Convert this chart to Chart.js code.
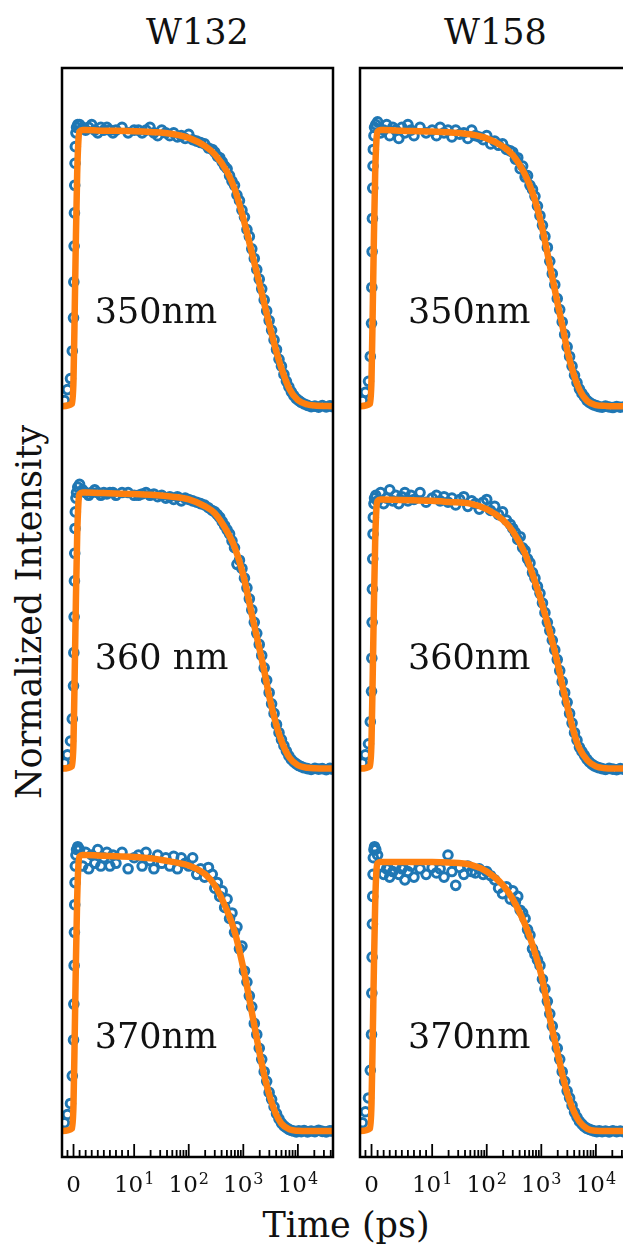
<!DOCTYPE html>
<html>
<head>
<meta charset="utf-8">
<script src="https://cdn.jsdelivr.net/npm/chart.js@4.4.1/dist/chart.umd.min.js"></script>
<style>
  html, body { margin: 0; padding: 0; background: #fff; }
  body { width: 623px; height: 1247px; position: relative; overflow: hidden; font-family: 'DejaVu Serif', serif; color: #111; }
  canvas { position: absolute; top: 0; }
  #leftChart { left: 0; }
  #rightChart { left: 298px; }
  .txt { position: absolute; font-size: 35px; line-height: 35px; white-space: nowrap; }
</style>
</head>
<body>
<div class="txt" style="left:197.5px; top:15px; transform:translateX(-50%)">W132</div>
<div class="txt" style="left:495.5px; top:15px; transform:translateX(-50%)">W158</div>
<div class="txt" style="left:29px; top:612px; transform:translate(-50%,-50%) rotate(-90deg)">Normalized Intensity</div>
<div class="txt" style="left:346px; top:1208px; transform:translateX(-50%)">Time (ps)</div>
<canvas id="leftChart" width="346" height="1247"></canvas>
<canvas id="rightChart" width="346" height="1247"></canvas>
<script>
// time axis (ps) - measured points and fit curve sampling
const TIME_DATA = [
  -1.5, -1.0, -0.5, -0.2, 0, 0.05, 0.1, 0.15, 0.2, 0.25, 0.3, 0.4, 0.5, 0.7,
  1, 1.5, 2, 2.5, 3, 3.5, 4, 4.5, 5, 5.5, 6, 6.5, 7, 8, 9, 10,
  12, 14, 16.5, 19.5, 23, 27, 32, 38, 45, 53, 62, 73, 86, 100, 118, 140, 165, 195, 230, 270,
  300, 335, 370, 410, 455, 505, 560, 620, 690, 765, 850, 945, 1050, 1165, 1290, 1430, 1590, 1765, 1960, 2175,
  2415, 2680, 2975, 3300, 3660, 4060, 4510, 5000, 5550, 6160, 6840, 7590, 8430, 9350, 10400, 11500,
  13000, 15000, 17500, 20500, 24000, 28000, 33000, 38500, 43000
];
const TIME_FIT = [
  -1.9, -0.2, 0, 0.2, 0.4, 0.6, 0.8, 1, 1.5, 2, 5, 10, 20, 50, 100, 200, 300, 500, 700, 1000,
  1500, 2000, 2500, 3000, 4000, 5000, 7000, 10000, 15000, 20000, 44000
];

// W132 panel
const W132_350_DATA = [
  0.02, 0.06, 0.1, 0.2, 0.32, 0.45, 0.58, 0.7, 0.8, 0.88, 0.94, 0.99, 1.01, 1.02,
  1.02, 1.01, 1.0, 1.01, 1.02, 1.0, 0.99, 1.01, 1.0, 1.01, 1.0, 0.99, 1.0, 1.01, 0.99, 1.0,
  1.0, 0.99, 1.0, 1.01, 0.99, 0.98, 1.0, 0.99, 0.98, 0.99, 0.975, 0.98, 0.97, 0.985, 0.965, 0.96, 0.955, 0.95, 0.935, 0.93,
  0.92, 0.905, 0.9, 0.885, 0.87, 0.86, 0.835, 0.815, 0.8, 0.765, 0.745, 0.71, 0.685, 0.64, 0.615, 0.57, 0.535, 0.495, 0.46, 0.425,
  0.385, 0.345, 0.31, 0.275, 0.24, 0.205, 0.17, 0.145, 0.115, 0.09, 0.07, 0.052, 0.038, 0.027, 0.02, 0.014,
  0.008, 0.003, -0.002, 0.0, -0.004, 0.002, -0.003, 0.001, -0.002
];
const W132_360_DATA = [
  0.02, 0.05, 0.1, 0.18, 0.3, 0.42, 0.55, 0.68, 0.78, 0.87, 0.93, 0.98, 1.0, 1.02,
  1.03, 1.01, 1.0, 0.99, 1.0, 1.01, 1.0, 0.99, 1.0, 0.995, 1.0, 1.0, 0.99, 1.0, 1.0, 0.99,
  0.99, 0.995, 1.0, 0.99, 0.995, 0.985, 0.99, 0.98, 0.985, 0.975, 0.985, 0.97, 0.98, 0.975, 0.97, 0.965, 0.96, 0.955, 0.945, 0.935,
  0.93, 0.92, 0.91, 0.895, 0.88, 0.865, 0.85, 0.825, 0.8, 0.74, 0.755, 0.725, 0.69, 0.655, 0.615, 0.575, 0.53, 0.49, 0.45, 0.41,
  0.365, 0.32, 0.275, 0.235, 0.2, 0.16, 0.13, 0.105, 0.083, 0.063, 0.046, 0.033, 0.024, 0.017, 0.011, 0.007,
  0.003, 0.0, -0.003, 0.001, -0.002, 0.0, -0.004, 0.001, -0.002
];
const W132_370_DATA = [
  0.03, 0.06, 0.1, 0.2, 0.33, 0.46, 0.6, 0.72, 0.82, 0.9, 0.96, 1.0, 1.02, 1.03,
  1.02, 0.96, 1.01, 0.95, 1.0, 0.97, 1.02, 0.96, 0.99, 1.01, 0.96, 1.0, 0.97, 1.01, 0.95, 0.99,
  1.0, 0.96, 1.01, 0.98, 0.95, 1.0, 0.97, 0.99, 0.96, 0.995, 0.95, 0.99, 0.97, 0.96, 0.99, 0.93, 0.95, 0.92, 0.955, 0.93,
  0.88, 0.9, 0.85, 0.87, 0.81, 0.84, 0.77, 0.79, 0.72, 0.74, 0.66, 0.67, 0.58, 0.54, 0.49, 0.45, 0.39, 0.35, 0.3, 0.26,
  0.215, 0.18, 0.14, 0.115, 0.088, 0.063, 0.044, 0.029, 0.019, 0.012, 0.006, 0.002, 0.0, -0.003, 0.001, -0.002,
  0.002, -0.003, 0.0, -0.002, 0.003, -0.001, -0.003, 0.001, 0.0
];
const W132_350_FIT = [0, 0.01, 0.1, 0.35, 0.62, 0.84, 0.96, 0.995, 1.0, 1.0, 0.998, 0.996, 0.993, 0.986, 0.972, 0.942, 0.912, 0.85, 0.785, 0.68, 0.54, 0.44, 0.36, 0.295, 0.2, 0.137, 0.062, 0.022, 0.006, 0.002, 0];
const W132_360_FIT = [0, 0.01, 0.1, 0.35, 0.62, 0.84, 0.96, 0.995, 1.0, 1.0, 0.998, 0.995, 0.992, 0.985, 0.975, 0.95, 0.925, 0.86, 0.8, 0.7, 0.54, 0.43, 0.34, 0.26, 0.16, 0.1, 0.04, 0.012, 0.003, 0.001, 0];
const W132_370_FIT = [0, 0.01, 0.1, 0.35, 0.62, 0.84, 0.96, 0.995, 1.0, 1.0, 0.997, 0.993, 0.988, 0.975, 0.962, 0.93, 0.89, 0.8, 0.72, 0.59, 0.41, 0.28, 0.19, 0.13, 0.06, 0.027, 0.006, 0.001, 0, 0, 0];

// W158 panel
const W158_350_DATA = [
  0.02, 0.05, 0.09, 0.18, 0.3, 0.43, 0.56, 0.68, 0.79, 0.87, 0.93, 0.98, 1.01, 1.02,
  1.03, 0.99, 1.0, 1.02, 0.98, 1.01, 1.0, 0.97, 1.01, 0.99, 1.02, 1.0, 0.98, 1.01, 0.99, 1.0,
  0.98, 1.01, 0.99, 1.0, 0.975, 1.0, 0.985, 0.99, 0.97, 1.0, 0.98, 0.975, 0.965, 0.98, 0.95, 0.96, 0.945, 0.95, 0.93, 0.925,
  0.92, 0.895, 0.9, 0.86, 0.87, 0.83, 0.835, 0.8, 0.785, 0.76, 0.725, 0.69, 0.655, 0.615, 0.575, 0.525, 0.48, 0.44, 0.39, 0.35,
  0.305, 0.26, 0.215, 0.18, 0.145, 0.112, 0.085, 0.062, 0.046, 0.034, 0.021, 0.014, 0.008, 0.004, 0.001, -0.002,
  -0.004, 0.0, -0.003, -0.005, -0.001, -0.004, -0.002, -0.005, -0.003
];
const W158_360_DATA = [
  0.02, 0.05, 0.09, 0.17, 0.28, 0.4, 0.53, 0.65, 0.76, 0.85, 0.91, 0.96, 0.98, 0.99,
  0.97, 1.0, 0.96, 0.98, 1.01, 0.97, 0.99, 0.96, 0.985, 1.0, 0.97, 0.99, 0.975, 1.0, 0.965, 0.98,
  0.99, 0.97, 0.985, 0.965, 0.98, 0.955, 0.975, 0.985, 0.95, 0.97, 0.96, 0.94, 0.965, 0.975, 0.935, 0.95, 0.92, 0.93, 0.9, 0.885,
  0.87, 0.855, 0.83, 0.84, 0.8, 0.79, 0.76, 0.745, 0.71, 0.69, 0.66, 0.635, 0.6, 0.565, 0.53, 0.5, 0.465, 0.43, 0.395, 0.355,
  0.315, 0.275, 0.24, 0.2, 0.165, 0.13, 0.103, 0.077, 0.062, 0.048, 0.034, 0.024, 0.016, 0.01, 0.006, 0.003,
  0.0, -0.003, 0.001, -0.002, -0.004, 0.0, -0.003, -0.001, -0.002
];
const W158_370_DATA = [
  0.03, 0.07, 0.12, 0.22, 0.35, 0.5, 0.63, 0.75, 0.85, 0.93, 0.99, 1.02, 1.03, 1.02,
  1.0, 0.96, 0.93, 0.95, 0.92, 0.94, 0.96, 0.93, 0.95, 0.91, 0.94, 0.96, 0.92, 0.95, 0.93, 0.955,
  0.935, 0.95, 0.92, 1.0, 0.94, 0.89, 0.955, 0.93, 0.96, 0.94, 0.935, 0.95, 0.93, 0.94, 0.925, 0.91, 0.88, 0.86, 0.885, 0.84,
  0.87, 0.83, 0.85, 0.8, 0.79, 0.77, 0.73, 0.71, 0.66, 0.64, 0.62, 0.6, 0.55, 0.515, 0.47, 0.425, 0.38, 0.34, 0.3, 0.26,
  0.215, 0.18, 0.145, 0.12, 0.093, 0.068, 0.05, 0.035, 0.025, 0.016, 0.01, 0.006, 0.003, 0.0, -0.002, 0.001,
  -0.002, 0.0, -0.003, 0.001, -0.002, 0.0, -0.003, -0.001, 0.0
];
const W158_350_FIT = [0, 0.01, 0.1, 0.35, 0.62, 0.84, 0.96, 0.995, 1.0, 1.0, 0.998, 0.995, 0.992, 0.985, 0.97, 0.94, 0.91, 0.84, 0.77, 0.66, 0.49, 0.37, 0.28, 0.2, 0.11, 0.06, 0.018, 0.004, 0.001, 0, 0];
const W158_360_FIT = [0, 0.01, 0.1, 0.34, 0.6, 0.82, 0.94, 0.97, 0.975, 0.975, 0.973, 0.97, 0.966, 0.96, 0.94, 0.9, 0.86, 0.78, 0.7, 0.605, 0.48, 0.38, 0.29, 0.225, 0.127, 0.073, 0.03, 0.008, 0.001, 0, 0];
const W158_370_FIT = [0, 0.01, 0.1, 0.34, 0.6, 0.82, 0.94, 0.97, 0.975, 0.975, 0.975, 0.975, 0.973, 0.965, 0.94, 0.89, 0.84, 0.75, 0.67, 0.565, 0.39, 0.28, 0.195, 0.135, 0.068, 0.034, 0.008, 0.001, 0, 0, 0];

// stacking offsets (top, middle, bottom) and in-panel labels
const OFFSETS = [2.626, 1.313, 0];
const W132_LABELS = ['350nm', '360 nm', '370nm'];
const W158_LABELS = ['350nm', '360nm', '370nm'];
const LABEL_HEIGHTS = [0.30, 0.36, 0.30];

// axis
const X_MIN = -1.9, X_MAX = 44000;
const Y_MIN = -0.094, Y_MAX = 3.851;
const MAJOR_TICKS = [0, 10, 100, 1000, 10000];
// [base, exponent] for each major tick label
const TICK_LABELS = [['0', ''], ['10', '1'], ['10', '2'], ['10', '3'], ['10', '4']];
const MINOR_TICKS = [-1, 1, 2, 3, 4, 5, 6, 7, 8, 9,
  20, 30, 40, 50, 60, 70, 80, 90, 200, 300, 400, 500, 600, 700, 800, 900,
  2000, 3000, 4000, 5000, 6000, 7000, 8000, 9000, 20000, 30000, 40000];

const BLUE = '#1f77b4';
const ORANGE = '#ff7f0e';

// symlog like matplotlib: linear below 10 ps, log above
const LINTHRESH = 10;
const LINSCALE = 1 / (1 - 1 / 10);
const symlog = (v) => {
    const a = Math.abs(v);
    if (a <= LINTHRESH) return v / LINTHRESH * LINSCALE;
    return Math.sign(v) * (LINSCALE + Math.log10(a / LINTHRESH));
};
const symexp = (u) => {
    const a = Math.abs(u);
    if (a <= LINSCALE) return u * LINTHRESH / LINSCALE;
    return Math.sign(u) * LINTHRESH * Math.pow(10, a - LINSCALE);
};

class SymlogScale extends Chart.LinearScale {
    static id = 'symlog';
    static defaults = {};
    buildTicks() {
        return MAJOR_TICKS.map(v => ({ value: v }));
    }
    configure() {
        super.configure();
        this._lo = symlog(this.min);
        this._hi = symlog(this.max);
    }
    getPixelForValue(value) {
        return this.getPixelForDecimal((symlog(value) - this._lo) / (this._hi - this._lo));
    }
    getValueForPixel(pixel) {
        return symexp(this._lo + this.getDecimalForPixel(pixel) * (this._hi - this._lo));
    }
}
Chart.register(SymlogScale);

// box frame, inward ticks and mathtext-like tick labels
const framePlugin = {
    id: 'frame',
    afterDraw(chart) {
        const { ctx, chartArea: a, scales: { x } } = chart;
        ctx.save();
        ctx.strokeStyle = '#000';
        ctx.lineWidth = 1.8;
        const tick = (v, len) => {
            const px = x.getPixelForValue(v);
            ctx.beginPath();
            ctx.moveTo(px, a.bottom);
            ctx.lineTo(px, a.bottom - len);
            ctx.stroke();
        };
        MAJOR_TICKS.forEach(v => tick(v, 13));
        MINOR_TICKS.forEach(v => tick(v, 7));
        ctx.lineWidth = 2.5;
        ctx.strokeRect(a.left, a.top, a.width, a.height);

        ctx.fillStyle = '#111';
        ctx.textBaseline = 'alphabetic';
        ctx.textAlign = 'left';
        const baseY = a.bottom + 35;
        MAJOR_TICKS.forEach((v, i) => {
            const [base, exp] = TICK_LABELS[i];
            ctx.font = '23px "DejaVu Serif"';
            const wb = ctx.measureText(base).width;
            ctx.font = '16px "DejaVu Serif"';
            const we = exp ? ctx.measureText(exp).width + 1 : 0;
            const left = x.getPixelForValue(v) - (wb + we) / 2;
            ctx.font = '23px "DejaVu Serif"';
            ctx.fillText(base, left, baseY);
            if (exp) {
                ctx.font = '16px "DejaVu Serif"';
                ctx.fillText(exp, left + wb + 1, baseY - 8);
            }
        });
        ctx.restore();
    }
};

const panelTextPlugin = {
    id: 'panelText',
    afterDatasetsDraw(chart, args, opts) {
        const { ctx, scales: { x, y } } = chart;
        ctx.save();
        ctx.font = '35px "DejaVu Serif"';
        ctx.fillStyle = '#111';
        ctx.textAlign = 'left';
        ctx.textBaseline = 'alphabetic';
        opts.texts.forEach((txt, k) => {
            ctx.fillText(txt, x.getPixelForValue(opts.time), y.getPixelForValue(OFFSETS[k] + LABEL_HEIGHTS[k]));
        });
        ctx.restore();
    }
};

const makePanel = (canvasId, dataSeries, fitSeries, texts, labelTime) => {
    const datasets = [];
    dataSeries.forEach((vals, k) => {
        datasets.push({
            data: TIME_DATA.map((t, i) => ({ x: t, y: vals[i] + OFFSETS[k] })),
            showLine: false,
            pointRadius: 4.3,
            pointBorderWidth: 3,
            pointBorderColor: BLUE,
            pointBackgroundColor: 'rgba(0,0,0,0)',
            order: 2,
            clip: 0,
        });
    });
    fitSeries.forEach((vals, k) => {
        datasets.push({
            data: TIME_FIT.map((t, i) => ({ x: t, y: vals[i] + OFFSETS[k] })),
            showLine: true,
            borderColor: ORANGE,
            borderWidth: 6.5,
            borderJoinStyle: 'round',
            borderCapStyle: 'round',
            cubicInterpolationMode: 'monotone',
            pointRadius: 0,
            order: 1,
            clip: 0,
        });
    });

    return new Chart(document.getElementById(canvasId), {
        type: 'scatter',
        data: { datasets },
        plugins: [framePlugin, panelTextPlugin],
        options: {
            responsive: false,
            animation: false,
            events: [],
            layout: { padding: { left: 62, right: 13, top: 68, bottom: 0 } },
            scales: {
                x: {
                    type: 'symlog',
                    min: X_MIN,
                    max: X_MAX,
                    grid: { display: false, drawTicks: false },
                    border: { display: false },
                    ticks: { display: false },
                    afterFit: (scale) => { scale.height = 90; },
                },
                y: { display: false, min: Y_MIN, max: Y_MAX },
            },
            plugins: {
                legend: { display: false },
                tooltip: { enabled: false },
                panelText: { texts: texts, time: labelTime },
            },
        },
    });
};

makePanel('leftChart', [W132_350_DATA, W132_360_DATA, W132_370_DATA],
    [W132_350_FIT, W132_360_FIT, W132_370_FIT], W132_LABELS, 3.5);
makePanel('rightChart', [W158_350_DATA, W158_360_DATA, W158_370_DATA],
    [W158_350_FIT, W158_360_FIT, W158_370_FIT], W158_LABELS, 6.0);
</script>
</body>
</html>
